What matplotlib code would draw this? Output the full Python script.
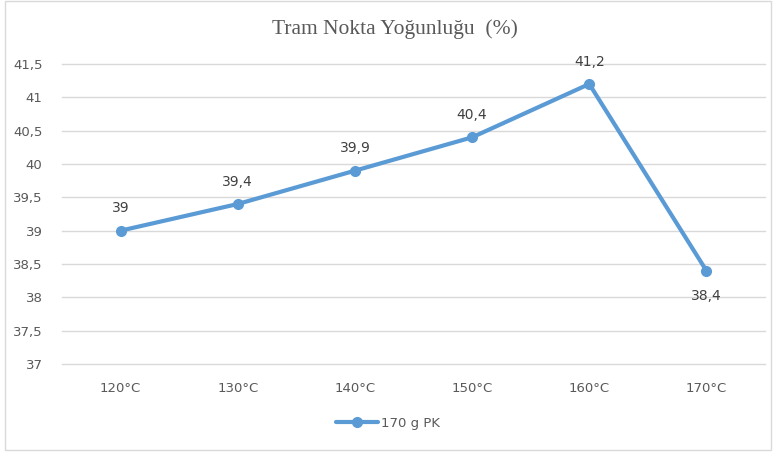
import matplotlib.pyplot as plt
import matplotlib.patches as patches

# ----------------------------------------------------------------
# data

categories=['120°C','130°C','140°C','150°C','160°C','170°C']
values=[39.0,39.4,39.9,40.4,41.2,38.4]
yticks=[37,37.5,38,38.5,39,39.5,40,40.5,41,41.5]
series_name='170 g PK'
title='Tram Nokta Yoğunluğu  (%)'

def comma(v):
    s=('%.1f'%v).rstrip('0').rstrip('.')
    return s.replace('.',',')

# ----------------------------------------------------------------
# figure

blue='#5B9BD5'
grey='#595959'

fig=plt.figure(figsize=(7.76,4.55),dpi=100)
fig.set_facecolor('white')
border=patches.Rectangle((4.5/776,5/455),(771-4.5)/776,(454-5)/455,
                         transform=fig.transFigure,fill=False,
                         edgecolor='#d9d9d9',lw=1)
fig.patches.append(border)

ax=fig.add_axes([62/776,91/455,703/776,300/455])
x=list(range(len(categories)))
ax.plot(x,values,color=blue,lw=3,marker='o',ms=7,solid_capstyle='round',
        label=series_name,zorder=3)

for xi,v in zip(x,values):
    if v==min(values):
        ax.annotate(comma(v),(xi,v),xytext=(0,-13),textcoords='offset points',
                    ha='center',va='top',fontsize=10,color='#404040')
    else:
        ax.annotate(comma(v),(xi,v),xytext=(0,11),textcoords='offset points',
                    ha='center',va='bottom',fontsize=10,color='#404040')

ax.set_xlim(-0.5,len(categories)-0.5)
ax.set_ylim(37,41.5)
ax.set_yticks(yticks)
ax.set_yticklabels([comma(t) for t in yticks])
ax.set_xticks(x)
ax.set_xticklabels(categories)
ax.tick_params(length=0,labelsize=9.5,labelcolor=grey)
ax.tick_params(axis='x',pad=13)
ax.tick_params(axis='y',pad=14)
ax.grid(axis='y',color='#d9d9d9',lw=1)
for l in ax.get_ygridlines():
    l.set_clip_on(False)
ax.set_axisbelow(True)
for s in ax.spines.values():
    s.set_visible(False)

fig.text(395/776,1-29/455,title,ha='center',va='center',fontsize=15.5,
         family='Liberation Serif',color=grey)

fig.legend(loc='center',bbox_to_anchor=(0.5,1-423/455),frameon=False,
           fontsize=9.5,labelcolor=grey,handlelength=3.2,handletextpad=0.2)

plt.savefig('out.png',dpi=100)
